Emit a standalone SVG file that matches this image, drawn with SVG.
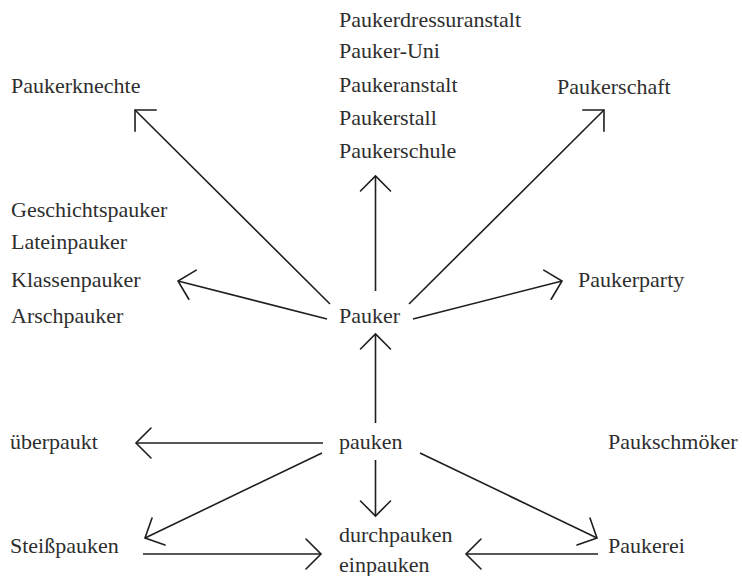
<svg xmlns="http://www.w3.org/2000/svg" width="742" height="576" viewBox="0 0 742 576">
<defs>
<style>
text{font-family:"Liberation Serif","DejaVu Serif","Times New Roman",serif;font-size:22px;fill:#2e2e2e}
.c line{stroke:#1e1e1e;stroke-width:1.6;fill:none;marker-end:url(#ah)}
</style>
<marker id="ah" markerUnits="userSpaceOnUse" markerWidth="40" markerHeight="40" viewBox="-20 -20 40 40" refX="0" refY="0" orient="auto">
<path d="M-15,-15 L0,0 L-15,15" fill="none" stroke="#1e1e1e" stroke-width="1.6" stroke-linecap="round" stroke-linejoin="miter"/>
</marker>
</defs>
<rect width="742" height="576" fill="#fff"/>
<g id="n-paukerdressuranstalt"><text x="339" y="27">Paukerdressuranstalt</text></g>
<g id="n-paukeruni"><text x="339" y="58">Pauker-Uni</text></g>
<g id="n-paukeranstalt"><text x="339" y="92">Paukeranstalt</text></g>
<g id="n-paukerstall"><text x="339" y="125">Paukerstall</text></g>
<g id="n-paukerschule"><text x="339" y="158">Paukerschule</text></g>
<g id="n-paukerknechte"><text x="11" y="93">Paukerknechte</text></g>
<g id="n-paukerschaft"><text x="557" y="94">Paukerschaft</text></g>
<g id="n-geschichtspauker"><text x="11" y="217">Geschichtspauker</text></g>
<g id="n-lateinpauker"><text x="11" y="249">Lateinpauker</text></g>
<g id="n-klassenpauker"><text x="11" y="287">Klassenpauker</text></g>
<g id="n-arschpauker"><text x="11" y="323">Arschpauker</text></g>
<g id="n-pauker"><text x="339" y="323">Pauker</text></g>
<g id="n-paukerparty"><text x="578" y="287">Paukerparty</text></g>
<g id="n-ueberpaukt"><text x="10" y="449">überpaukt</text></g>
<g id="n-pauken"><text x="339" y="449">pauken</text></g>
<g id="n-paukschmoeker"><text x="608" y="449">Paukschmöker</text></g>
<g id="n-steisspauken"><text x="10" y="553">Steißpauken</text></g>
<g id="n-durchpauken"><text x="339" y="542">durchpauken</text></g>
<g id="n-einpauken"><text x="339" y="572">einpauken</text></g>
<g id="n-paukerei"><text x="608" y="553">Paukerei</text></g>
<g id="connectors" class="c">
<line x1="330" y1="304" x2="135" y2="110"/>
<line x1="375.5" y1="291" x2="375.5" y2="176"/>
<line x1="409" y1="304" x2="604" y2="110"/>
<line x1="327" y1="319" x2="178" y2="281"/>
<line x1="413" y1="319" x2="562" y2="281"/>
<line x1="375.5" y1="423" x2="375.5" y2="334"/>
<line x1="323" y1="443" x2="136" y2="443"/>
<line x1="322" y1="453" x2="145" y2="538"/>
<line x1="375.5" y1="460" x2="375.5" y2="516"/>
<line x1="420" y1="453" x2="597" y2="538"/>
<line x1="143" y1="554" x2="321" y2="554"/>
<line x1="598" y1="554" x2="466" y2="554"/>
</g>
</svg>
